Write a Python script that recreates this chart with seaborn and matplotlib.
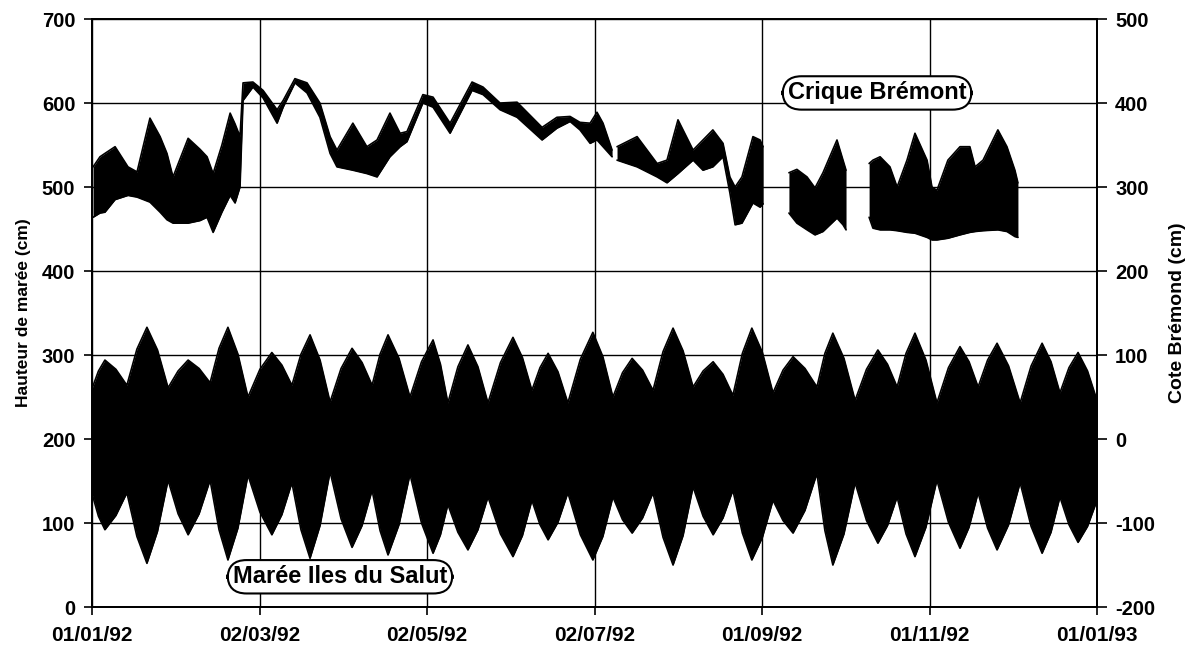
import numpy as np
import pandas as pd
import matplotlib
matplotlib.use("Agg")
import matplotlib.pyplot as plt
import seaborn as sns

# ---------------- data ----------------
# days counted from 01/01/1992
tick_days = [0, 61, 122, 183, 244, 305, 366]
tick_labels = ["01/01/92", "02/03/92", "02/05/92", "02/07/92", "01/09/92", "01/11/92", "01/01/93"]

# Marée Iles du Salut: envelope of the tide (left axis, cm)
tide_day = [0, 2.35, 4.7, 8.7, 12.7, 16.35, 20, 23.85, 27.7, 31.35,
            35, 39, 43, 46.25, 49.5, 53.15, 56.8, 61.15, 65.5, 69.15,
            72.8, 76.1, 79.4, 83.05, 86.7, 90.7, 94.7, 98.35, 102, 104.9,
            107.8, 111.8, 115.8, 120, 124.2, 126.9, 129.6, 133.25, 136.9, 140.55,
            144.2, 148.75, 153.3, 156.75, 160.2, 163.15, 166.1, 169.7, 173.3, 177.85,
            182.4, 186.05, 189.7, 193.2, 196.7, 200.5, 204.3, 207.95, 211.6, 215.25,
            218.9, 222.55, 226.2, 229.8, 233.4, 236.85, 240.3, 244.15, 248, 251.65,
            255.3, 259.65, 264, 266.9, 269.8, 273.85, 277.9, 282.05, 286.2, 289.7,
            293.2, 296.45, 299.7, 303.7, 307.7, 311.9, 316.1, 319.4, 322.7, 326.15,
            329.6, 333.8, 338, 342, 346, 349.25, 352.5, 355.8, 359.1, 362.55,
            366]
tide_high = [260, 281, 294, 283, 264, 307, 333, 306, 261, 281,
             294, 284, 267, 308, 333, 301, 250, 283, 303, 288,
             264, 301, 324, 294, 244, 284, 308, 291, 264, 301,
             324, 296, 250, 292, 318, 289, 243, 286, 312, 286,
             243, 291, 321, 297, 258, 285, 302, 280, 243, 295,
             327, 298, 250, 279, 296, 282, 258, 304, 332, 305,
             262, 281, 292, 277, 252, 302, 332, 303, 255, 282,
             298, 284, 262, 302, 326, 296, 246, 283, 306, 289,
             262, 302, 326, 294, 243, 285, 310, 292, 262, 294,
             314, 287, 243, 287, 314, 292, 255, 285, 303, 281,
             246]
tide_low = [135, 108, 92, 109, 136, 84, 52, 90, 151, 111,
            86, 111, 151, 92, 56, 94, 157, 113, 86, 110,
            148, 92, 58, 97, 161, 105, 71, 97, 139, 91,
            62, 98, 158, 100, 64, 86, 122, 89, 68, 92,
            131, 87, 60, 85, 127, 98, 80, 101, 136, 86,
            56, 84, 131, 104, 88, 106, 136, 83, 50, 85,
            143, 108, 86, 106, 139, 88, 56, 83, 127, 103,
            88, 115, 159, 91, 50, 87, 148, 103, 76, 97,
            131, 87, 60, 95, 151, 101, 70, 95, 136, 94,
            68, 98, 148, 96, 64, 89, 131, 98, 77, 96,
            127]

# Crique Brémont: envelope, in four recorded segments (right axis, cm)
crique_day_1 = [0.4, 2.9, 4.7, 8.4, 13.1, 16.4, 21.1, 24.8, 27.3, 29.5, 35.0, 39.3, 41.9, 44.1,
                47.3, 50.3, 52.1, 53.9, 55.0, 58.6, 62.3, 67.4, 69.6, 73.9, 78.3, 83.0, 86.7,
                89.2, 95.0, 100.1, 103.8, 108.5, 112.2, 114.7, 120.5, 124.2, 130.4, 138.4,
                142.4, 148.6, 154.8, 163.9, 169.3, 174.1, 177.7, 181.4, 183.9, 186.1, 189.4]
crique_high_1 = [324, 336, 340, 348, 324, 318, 382, 360, 340, 312, 358, 345, 336, 316, 350, 388,
                 375, 360, 424, 425, 415, 392, 403, 429, 424, 400, 360, 344, 376, 348, 356, 388,
                 364, 366, 410, 407, 376, 425, 419, 400, 401, 371, 383, 384, 377, 376, 389, 376,
                 344]
crique_low_1 = [264, 269, 270, 285, 290, 288, 282, 270, 261, 257, 257, 260, 264, 246, 270, 290,
                281, 300, 403, 419, 406, 376, 395, 424, 412, 383, 340, 324, 320, 316, 312, 336,
                348, 354, 400, 395, 364, 415, 410, 392, 383, 356, 370, 378, 368, 352, 356, 348,
                336]
crique_day_2 = [191.2, 198.5, 205.8, 209.4, 213.4, 218.9, 222.5, 226.1, 229.8, 232.3, 234.2,
                236.7, 240.7, 243.3, 244.4]
crique_high_2 = [348, 360, 328, 332, 380, 344, 356, 368, 352, 312, 300, 312, 360, 356, 348]
crique_low_2 = [332, 324, 312, 305, 316, 332, 320, 324, 336, 293, 255, 257, 281, 276, 280]
crique_day_3 = [253.8, 256.7, 260.4, 263.3, 266.2, 271.3, 273.5, 274.6]
crique_high_3 = [317, 321, 312, 299, 317, 356, 332, 320]
crique_low_3 = [269, 257, 249, 243, 247, 263, 255, 249]
crique_day_4 = [283.0, 284.4, 287.0, 290.6, 293.2, 296.8, 299.7, 304.1, 305.9, 307.7, 311.7,
                316.1, 319.7, 321.6, 324.5, 329.9, 333.2, 336.1, 337.2]
crique_high_4 = [328, 332, 336, 324, 300, 332, 364, 332, 300, 296, 332, 348, 348, 324, 332, 368,
                 348, 320, 305]
crique_low_4 = [264, 251, 249, 249, 248, 246, 245, 240, 237, 237, 239, 243, 246, 247, 248, 249,
                247, 241, 240]

# ---------------- build tables ----------------
origin = pd.Timestamp("1992-01-01")


def to_dates(days):
    return origin + pd.to_timedelta(np.asarray(days, dtype=float), unit="D")


tide_df = pd.DataFrame({"date": to_dates(tide_day), "high": tide_high, "low": tide_low})

segs = [(crique_day_1, crique_high_1, crique_low_1),
        (crique_day_2, crique_high_2, crique_low_2),
        (crique_day_3, crique_high_3, crique_low_3),
        (crique_day_4, crique_high_4, crique_low_4)]
crique_df = pd.concat(
    [pd.DataFrame({"date": to_dates(d), "high": h, "low": l, "seg": i})
     for i, (d, h, l) in enumerate(segs)], ignore_index=True)

# ---------------- style ----------------
sns.set_style("white")
plt.rcParams["font.family"] = ["Liberation Sans", "DejaVu Sans"]
plt.rcParams["font.weight"] = "bold"
plt.rcParams["axes.labelweight"] = "bold"
plt.rcParams["text.color"] = "black"
plt.rcParams["axes.labelcolor"] = "black"
plt.rcParams["xtick.color"] = "black"
plt.rcParams["ytick.color"] = "black"
plt.rcParams["axes.unicode_minus"] = False

fig = plt.figure(figsize=(11.95, 6.47), dpi=100)
ax = fig.add_axes([0.077, 0.0618, 0.841, 0.9088])
ax2 = ax.twinx()

# tide (left axis)
ax.fill_between(tide_df["date"], tide_df["low"], tide_df["high"], color="black", lw=0, zorder=2)
sns.lineplot(data=tide_df, x="date", y="high", color="black", lw=1.2, ax=ax, zorder=3)
sns.lineplot(data=tide_df, x="date", y="low", color="black", lw=1.2, ax=ax, zorder=3)

# Crique Brémont (right axis)
for _, g in crique_df.groupby("seg"):
    ax2.fill_between(g["date"], g["low"], g["high"], color="black", lw=0)
sns.lineplot(data=crique_df, x="date", y="high", units="seg", estimator=None,
             color="black", lw=1.2, ax=ax2)
sns.lineplot(data=crique_df, x="date", y="low", units="seg", estimator=None,
             color="black", lw=1.2, ax=ax2)

# axes limits / ticks
ax.set_xlim(to_dates([0])[0], to_dates([366])[0])
ax.set_ylim(0, 700)
ax2.set_ylim(-200, 500)
ax.set_yticks(np.arange(0, 701, 100))
ax2.set_yticks(np.arange(-200, 501, 100))
ax.set_xticks(to_dates(tick_days))
ax.set_xticklabels(tick_labels)

ax.grid(True, color="black", lw=1)
ax.set_axisbelow(True)
ax2.grid(False)

for a in (ax, ax2):
    for s in a.spines.values():
        s.set_color("black")
        s.set_linewidth(1.3)

ax.tick_params(axis="y", left=True, direction="out", length=6, width=1.2, pad=6,
               labelsize=14.5, colors="black")
ax.tick_params(axis="x", bottom=True, direction="out", length=6, width=1.2, pad=8,
               labelsize=15, colors="black")
ax2.tick_params(axis="y", right=True, direction="out", length=7, width=1.2, pad=6,
                labelsize=14.5, colors="black")

ax.set_xlabel("")
ax.set_ylabel("Hauteur de marée (cm)", fontsize=12.5, fontweight="bold", labelpad=8)
ax2.set_ylabel("Cote Brémond (cm)", fontsize=14, fontweight="bold", labelpad=10)

box = dict(boxstyle="round,pad=0.22,rounding_size=0.8", fc="white", ec="black", lw=1.5)
ax.text(to_dates([285.9])[0], 612, "Crique Brémont", fontsize=17, fontweight="bold",
        color="black", ha="center", va="center", bbox=box, zorder=10)
ax.text(to_dates([90.3])[0], 36, "Marée Iles du Salut", fontsize=17, fontweight="bold",
        color="black", ha="center", va="center", bbox=box, zorder=10)

fig.savefig("out.png", dpi=100)
